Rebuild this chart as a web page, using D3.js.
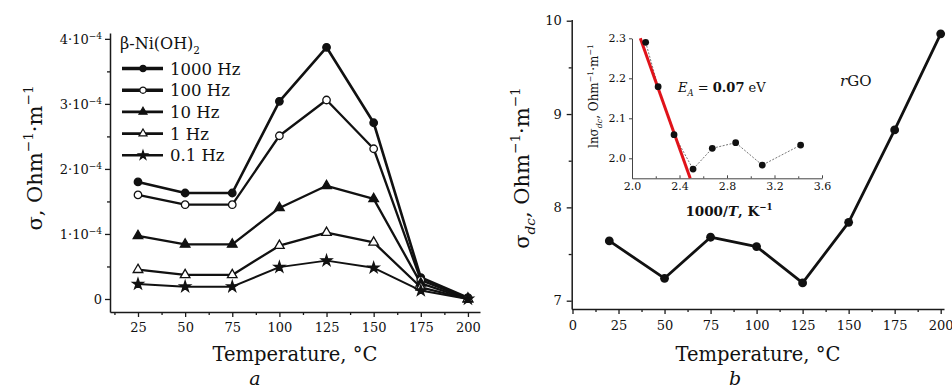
<!DOCTYPE html>
<html>
<head>
<meta charset="utf-8">
<script src="https://cdn.jsdelivr.net/npm/d3@7"></script>
<style>
    body { margin: 0; background: #fff; }
    svg { display: block; }
    text { font-family: "DejaVu Serif", serif; fill: #111; }
</style>
</head>
<body>
<div id="chart"></div>
<script>
// panel a: beta-Ni(OH)2, conductivity vs temperature at several frequencies
let tempsA = [25, 50, 75, 100, 125, 150, 175, 200];
let sigma1000Hz = [1.80e-4, 1.63e-4, 1.63e-4, 3.04e-4, 3.87e-4, 2.71e-4, 0.33e-4, 0.02e-4];
let sigma100Hz = [1.60e-4, 1.45e-4, 1.45e-4, 2.51e-4, 3.06e-4, 2.31e-4, 0.29e-4, 0.01e-4];
let sigma10Hz = [0.97e-4, 0.84e-4, 0.84e-4, 1.40e-4, 1.74e-4, 1.54e-4, 0.24e-4, 0.00];
let sigma1Hz = [0.45e-4, 0.37e-4, 0.37e-4, 0.82e-4, 1.02e-4, 0.87e-4, 0.18e-4, 0.00];
let sigma01Hz = [0.23e-4, 0.19e-4, 0.19e-4, 0.49e-4, 0.59e-4, 0.48e-4, 0.13e-4, 0.00];
let freqLabels = ["1000 Hz", "100 Hz", "10 Hz", "1 Hz", "0.1 Hz"];
let ticksA_x = [25, 50, 75, 100, 125, 150, 175, 200];
let ticksA_y = [0, 1e-4, 2e-4, 3e-4, 4e-4];

// panel b: rGO dc conductivity
let tempsB = [20, 50, 75, 100, 125, 150, 175, 200];
let sigmaDc = [7.64, 7.24, 7.68, 7.58, 7.19, 7.84, 8.83, 9.86];
let ticksB_x = [0, 25, 50, 75, 100, 125, 150, 175, 200];
let ticksB_y = [7, 8, 9, 10];

// inset: ln(sigma_dc) vs 1000/T
let invT = [2.115, 2.22, 2.354, 2.514, 2.676, 2.873, 3.097, 3.42];
let lnSigma = [2.29, 2.179, 2.059, 1.973, 2.025, 2.039, 1.983, 2.033];
let fitX = [2.07, 2.49];
let fitY = [2.30, 1.95];
let ticksIn_x = [2.0, 2.4, 2.8, 3.2, 3.6];
let ticksIn_y = [2.0, 2.1, 2.2, 2.3];

const svg = d3.select("#chart").append("svg")
    .attr("width", 952)
    .attr("height", 390);

// writes text with sub/superscripts into a text element
function rich(t, parts, fs) {
    let off = 0;
    parts.forEach(([s, k]) => {
        let target = 0;
        if (k === "sup") target = -0.42 * fs;
        if (k === "sub" || k === "isub") target = 0.3 * fs;
        const sp = t.append("tspan").attr("dy", target - off).text(s);
        off = target;
        if (k === "sup" || k === "sub" || k === "isub") sp.style("font-size", (fs * 0.65) + "px");
        if (k === "i" || k === "isub") sp.style("font-style", "italic");
        if (k === "b") sp.style("font-weight", "bold");
    });
}

function minorOf(ticks) {
    let m = [];
    for (let i = 0; i < ticks.length - 1; i++) m.push((ticks[i] + ticks[i + 1]) / 2);
    m.push(ticks[0] - (ticks[1] - ticks[0]) / 2);
    m.push(ticks[ticks.length - 1] + (ticks[1] - ticks[0]) / 2);
    return m;
}

// axes: left + bottom, major ticks with labels, minor ticks without
function drawAxes(x, y, xt, yt, o) {
    const left = x.range()[0], bottom = y.range()[0];
    const [x0, x1] = x.domain(), [y0, y1] = y.domain();
    const inX = v => v >= Math.min(x0, x1) - 1e-9 && v <= Math.max(x0, x1) + 1e-9;
    const inY = v => v >= Math.min(y0, y1) - 1e-9 && v <= Math.max(y0, y1) + 1e-9;

    const g = svg.append("g").style("color", "#1a1a1a");

    g.append("g")
        .attr("transform", `translate(0,${bottom})`)
        .call(d3.axisBottom(x).tickValues(minorOf(xt).filter(inX)).tickSize(o.xTick * 0.6).tickFormat("").tickSizeOuter(0))
        .call(s => s.select(".domain").remove())
        .selectAll("line").attr("stroke-width", 1.3);

    const gx = g.append("g")
        .attr("transform", `translate(0,${bottom})`)
        .call(d3.axisBottom(x).tickValues(xt).tickSize(o.xTick).tickPadding(o.xPad).tickSizeOuter(0).tickFormat(o.xFmt));
    gx.select(".domain").attr("stroke-width", o.lw);
    gx.selectAll("line").attr("stroke-width", 1.3);
    gx.selectAll("text").style("font-size", o.fs + "px");

    g.append("g")
        .attr("transform", `translate(${left},0)`)
        .call(d3.axisLeft(y).tickValues(minorOf(yt).filter(inY)).tickSize(o.yTick * 0.6).tickFormat("").tickSizeOuter(0))
        .call(s => s.select(".domain").remove())
        .selectAll("line").attr("stroke-width", 1.3);

    const gy = g.append("g")
        .attr("transform", `translate(${left},0)`)
        .call(d3.axisLeft(y).tickValues(yt).tickSize(o.yTick).tickPadding(o.yPad).tickSizeOuter(0).tickFormat(o.yFmt));
    gy.select(".domain").attr("stroke-width", o.lw);
    gy.selectAll("line").attr("stroke-width", 1.3);
    gy.selectAll("text").style("font-size", o.fs + "px");
    return gy;
}

// ===============================
// panel a
// ===============================
const xA = d3.scaleLinear().domain([10.15, 206.4]).range([110, 480]);
const yA = d3.scaleLinear().domain([-0.2e-4, 4.09e-4]).range([312, 33]);

const gyA = drawAxes(xA, yA, ticksA_x, ticksA_y, {
    xTick: 5, yTick: 5, xPad: 6, yPad: 3, fs: 13, lw: 1.5,
    xFmt: d3.format("d"), yFmt: d => d
});
// y labels like 4·10^-4
gyA.selectAll(".tick text").each(function(d) {
    const t = d3.select(this).text(null);
    if (d === 0) { t.text("0"); return; }
    t.append("tspan").text(Math.round(d * 1e4) + "·10");
    t.append("tspan").attr("dy", "-0.5em").style("font-size", "9px").text("−4");
});

const seriesA = [
    {name: freqLabels[0], values: sigma1000Hz, sym: d3.symbolCircle, size: 44, filled: true, lw: 2.6},
    {name: freqLabels[1], values: sigma100Hz, sym: d3.symbolCircle, size: 44, filled: false, lw: 2.3},
    {name: freqLabels[2], values: sigma10Hz, sym: d3.symbolTriangle, size: 40, filled: true, lw: 2.3},
    {name: freqLabels[3], values: sigma1Hz, sym: d3.symbolTriangle, size: 40, filled: false, lw: 2.3},
    {name: freqLabels[4], values: sigma01Hz, sym: d3.symbolStar, size: 36, filled: true, lw: 2.0}
];

const lineA = d3.line().x((d, i) => xA(tempsA[i])).y(d => yA(d));

seriesA.forEach(s => {
    svg.append("path")
        .attr("d", lineA(s.values))
        .attr("fill", "none")
        .attr("stroke", "#111")
        .attr("stroke-width", s.lw)
        .attr("stroke-linejoin", "round");
});
seriesA.forEach(s => {
    svg.append("g").selectAll("path")
        .data(s.values)
        .join("path")
        .attr("transform", (d, i) => `translate(${xA(tempsA[i])},${yA(d)})`)
        .attr("d", d3.symbol().type(s.sym).size(s.size))
        .attr("fill", s.filled ? "#111" : "#fff")
        .attr("stroke", "#111")
        .attr("stroke-width", 1.3);
});

// legend
const legA = svg.append("g");
rich(legA.append("text").attr("x", 120).attr("y", 49).style("font-size", "16px"),
    [["β-Ni(OH)", "n"], ["2", "sub"]], 16);
seriesA.forEach((s, i) => {
    const ly = 68.5 + i * 21.7;
    legA.append("line")
        .attr("x1", 122).attr("x2", 163).attr("y1", ly).attr("y2", ly)
        .attr("stroke", "#111").attr("stroke-width", i < 2 ? 3.4 : 2.6);
    legA.append("path")
        .attr("transform", `translate(143,${ly})`)
        .attr("d", d3.symbol().type(s.sym).size(s.size * 0.7))
        .attr("fill", s.filled ? "#111" : "#fff")
        .attr("stroke", "#111").attr("stroke-width", 1.2);
    legA.append("text")
        .attr("x", 170).attr("y", ly + 6)
        .style("font-size", "16.5px")
        .text(s.name);
});

// titles
rich(svg.append("text")
    .attr("transform", "translate(42,158) rotate(-90)")
    .attr("text-anchor", "middle")
    .style("font-size", "21px"),
    [["σ, Ohm", "n"], ["−1", "sup"], ["·m", "n"], ["−1", "sup"]], 21);

svg.append("text")
    .attr("x", 295).attr("y", 361)
    .attr("text-anchor", "middle")
    .style("font-size", "19.5px")
    .text("Temperature, °C");

svg.append("text")
    .attr("x", 255).attr("y", 385)
    .attr("text-anchor", "middle")
    .style("font-size", "19px")
    .style("font-style", "italic")
    .text("a");

// ===============================
// panel b
// ===============================
const xB = d3.scaleLinear().domain([-0.43, 201.8]).range([571.7, 944]);
const yB = d3.scaleLinear().domain([6.911, 10.013]).range([309, 19.5]);

drawAxes(xB, yB, ticksB_x, ticksB_y, {
    xTick: 5, yTick: 5, xPad: 7, yPad: 5, fs: 13, lw: 1.5,
    xFmt: d3.format("d"), yFmt: d3.format("d")
});

svg.append("path")
    .attr("d", d3.line().x((d, i) => xB(tempsB[i])).y(d => yB(d))(sigmaDc))
    .attr("fill", "none")
    .attr("stroke", "#111")
    .attr("stroke-width", 2.8)
    .attr("stroke-linejoin", "round");

svg.append("g").selectAll("circle")
    .data(sigmaDc)
    .join("circle")
    .attr("cx", (d, i) => xB(tempsB[i]))
    .attr("cy", d => yB(d))
    .attr("r", 4.4)
    .attr("fill", "#111");

rich(svg.append("text")
    .attr("transform", "translate(529,168) rotate(-90)")
    .attr("text-anchor", "middle")
    .style("font-size", "21px"),
    [["σ", "n"], ["dc", "isub"], [", Ohm", "n"], ["−1", "sup"], ["·m", "n"], ["−1", "sup"]], 21);

svg.append("text")
    .attr("x", 758).attr("y", 361)
    .attr("text-anchor", "middle")
    .style("font-size", "19.5px")
    .text("Temperature, °C");

svg.append("text")
    .attr("x", 735).attr("y", 385)
    .attr("text-anchor", "middle")
    .style("font-size", "19px")
    .style("font-style", "italic")
    .text("b");

rich(svg.append("text").attr("x", 840).attr("y", 86).style("font-size", "15px"),
    [["r", "i"], ["GO", "n"]], 15);

// ===============================
// inset
// ===============================
const xI = d3.scaleLinear().domain([2.0, 3.6]).range([632, 822]);
const yI = d3.scaleLinear().domain([1.95, 2.3]).range([178.3, 38.3]);

const gI = svg.append("g").style("color", "#444");
gI.append("g")
    .attr("transform", `translate(0,${yI.range()[0]})`)
    .call(d3.axisBottom(xI).tickValues(ticksIn_x).tickSize(-3).tickPadding(4).tickSizeOuter(0).tickFormat(d3.format(".1f")));
gI.append("g")
    .attr("transform", `translate(0,${yI.range()[0]})`)
    .call(d3.axisBottom(xI).tickValues(minorOf(ticksIn_x).filter(v => v > 2 && v < 3.6)).tickSize(-2).tickFormat("").tickSizeOuter(0))
    .call(s => s.select(".domain").remove());
gI.append("g")
    .attr("transform", `translate(${xI.range()[0]},0)`)
    .call(d3.axisLeft(yI).tickValues(ticksIn_y).tickSize(3).tickPadding(3).tickSizeOuter(0).tickFormat(d3.format(".1f")));
gI.selectAll("text").style("font-size", "11px");
gI.selectAll(".domain").attr("stroke-width", 1);

// thin dotted line through the points
svg.append("path")
    .attr("d", d3.line().x((d, i) => xI(invT[i])).y(d => yI(d))(lnSigma))
    .attr("fill", "none")
    .attr("stroke", "#777")
    .attr("stroke-width", 1)
    .attr("stroke-dasharray", "2,1.5");

// linear fit
svg.append("path")
    .attr("d", d3.line().x((d, i) => xI(fitX[i])).y(d => yI(d))(fitY))
    .attr("stroke", "#e0131a")
    .attr("stroke-width", 3);

svg.append("g").selectAll("circle")
    .data(lnSigma)
    .join("circle")
    .attr("cx", (d, i) => xI(invT[i]))
    .attr("cy", d => yI(d))
    .attr("r", 3.4)
    .attr("fill", "#111");

rich(svg.append("text")
    .attr("transform", "translate(598,96) rotate(-90)")
    .attr("text-anchor", "middle")
    .style("font-size", "12px"),
    [["lnσ", "n"], ["dc", "isub"], [", Ohm", "n"], ["−1", "sup"], ["·m", "n"], ["−1", "sup"]], 12);

rich(svg.append("text")
    .attr("x", 729).attr("y", 216)
    .attr("text-anchor", "middle")
    .style("font-size", "13.5px")
    .style("font-weight", "bold"),
    [["1000/", "n"], ["T", "i"], [", K", "n"], ["−1", "sup"]], 13.5);

rich(svg.append("text").attr("x", 678).attr("y", 92).style("font-size", "13px"),
    [["E", "i"], ["A", "isub"], [" = ", "n"], ["0.07", "b"], [" eV", "n"]], 13);
</script>
</body>
</html>
